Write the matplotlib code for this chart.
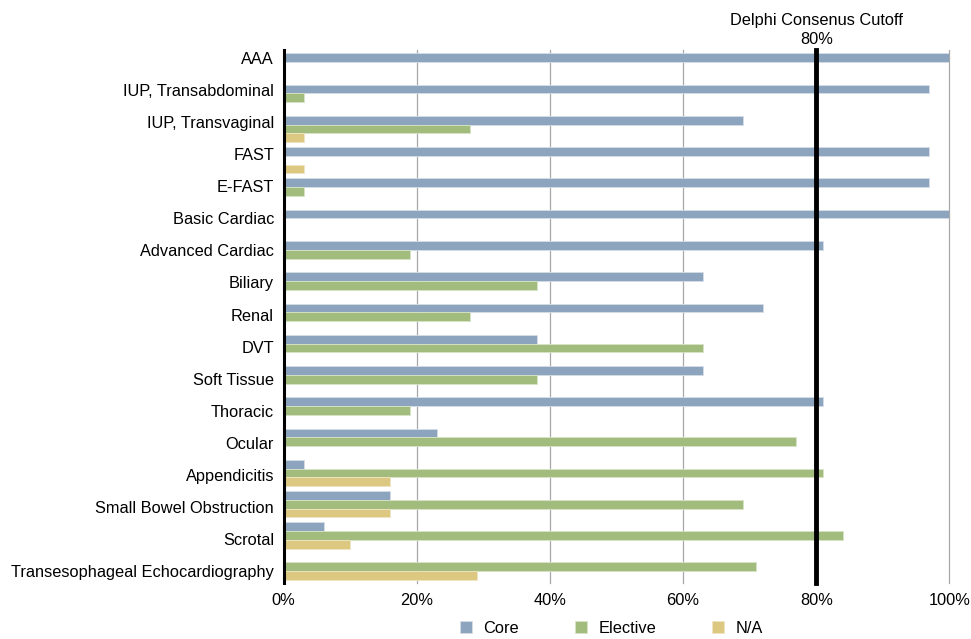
import matplotlib
matplotlib.use("Agg")
import matplotlib.pyplot as plt
import numpy as np

plt.rcParams['font.family'] = ['Liberation Sans', 'DejaVu Sans']

categories = ["AAA", "IUP, Transabdominal", "IUP, Transvaginal", "FAST", "E-FAST",
              "Basic Cardiac", "Advanced Cardiac", "Biliary", "Renal", "DVT",
              "Soft Tissue", "Thoracic", "Ocular", "Appendicitis",
              "Small Bowel Obstruction", "Scrotal", "Transesophageal Echocardiography"]
core =     [100, 97, 69, 97, 97, 100, 81, 63, 72, 38, 63, 81, 23, 3, 16, 6, 0]
elective = [0, 3, 28, 0, 3, 0, 19, 38, 28, 63, 38, 19, 77, 81, 69, 84, 71]
na =       [0, 0, 3, 3, 0, 0, 0, 0, 0, 0, 0, 0, 0, 16, 16, 10, 29]
xticks = [0, 20, 40, 60, 80, 100]
xtick_labels = ["0%", "20%", "40%", "60%", "80%", "100%"]
cutoff = 80

c_core = "#8CA4BE"
c_elec = "#A1BC7C"
c_na = "#DCC880"

fig = plt.figure(figsize=(9.71, 6.39), dpi=100)
ax = fig.add_axes([0.2922, 0.0876, 0.9777 - 0.2922, 0.9218 - 0.0876])

y = np.arange(len(categories))
h = 0.28
ax.barh(y - h, core, height=h, color=c_core, edgecolor="#d5dde6", linewidth=0.6, label="Core", zorder=2)
ax.barh(y, elective, height=h, color=c_elec, edgecolor="#d7e3c8", linewidth=0.6, label="Elective", zorder=2)
ax.barh(y + h, na, height=h, color=c_na, edgecolor="#efe5c2", linewidth=0.6, label="N/A", zorder=2)

ax.set_xlim(0, 100)
ax.set_ylim(16.52, -0.53)
for xv in [20, 40, 60, 100]:
    ax.axvline(xv, color="#a8a8a8", linewidth=0.9, zorder=1, clip_on=False)
ax.axvline(0, color="black", linewidth=2.2, zorder=3, clip_on=False)
ax.axvline(cutoff, color="black", linewidth=3.5, zorder=4, clip_on=False)

ax.set_xticks(xticks)
ax.set_xticklabels(xtick_labels, fontsize=11.8)
ax.set_yticks(-0.272 + 1.0256 * y)
ax.set_yticklabels(categories, fontsize=11.8)
ax.tick_params(length=0, pad=7)
ax.tick_params(axis='x', pad=7)
for s in ax.spines.values():
    s.set_visible(False)

ax.text(cutoff, -0.64, "Delphi Consenus Cutoff\n80%", ha="center", va="bottom",
        fontsize=11.8, linespacing=1.3)

leg = ax.legend(loc="upper center", bbox_to_anchor=(0.492, -0.05), ncol=3, frameon=False,
                fontsize=11.8, handlelength=0.75, handleheight=0.75, columnspacing=3.4,
                handletextpad=0.7, borderpad=0.2)

fig.savefig("out.png", dpi=100)
